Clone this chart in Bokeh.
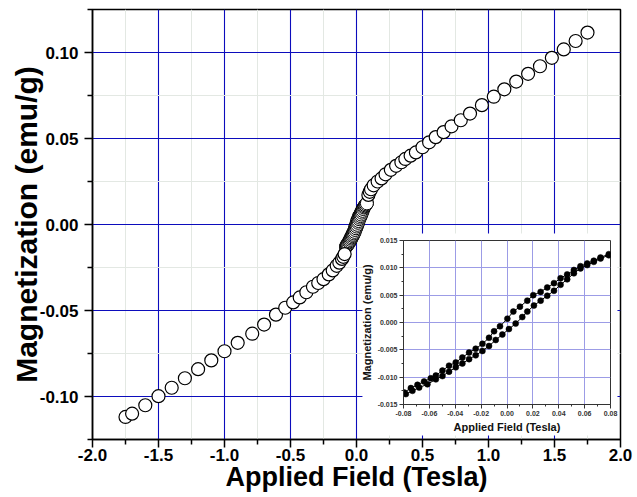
from bokeh.plotting import figure
from bokeh.layouts import column
from bokeh.models import FixedTicker, PrintfTickFormatter, ColumnDataSource, BoxAnnotation
from bokeh.embed import file_html
from bokeh.resources import INLINE

# ---------------- data ----------------
# main curve (outer field region), Tesla / emu/g
main_field = [-1.75, -1.70, -1.60, -1.50, -1.40, -1.30, -1.20, -1.10, -1.00, -0.90,
              -0.79, -0.70, -0.61, -0.54, -0.48, -0.43, -0.38, -0.33, -0.29, -0.25,
              -0.21, -0.18, -0.15, -0.13, -0.11, -0.10, -0.09,
              0.09, 0.10, 0.11, 0.13, 0.16, 0.19, 0.22, 0.26, 0.30, 0.34,
              0.37, 0.41, 0.45, 0.50, 0.55, 0.60, 0.66, 0.72, 0.79, 0.86,
              0.95, 1.04, 1.12, 1.21, 1.30, 1.39, 1.48, 1.57, 1.66, 1.75]
main_mag = [-0.1119, -0.1100, -0.1051, -0.0998, -0.0949, -0.0894, -0.0841, -0.0790, -0.0737, -0.0688,
            -0.0635, -0.0582, -0.0524, -0.0484, -0.0453, -0.0424, -0.0394, -0.0362, -0.0340, -0.0318,
            -0.0290, -0.0267, -0.0240, -0.0222, -0.0200, -0.0188, -0.0172,
            0.0172, 0.0190, 0.0205, 0.0228, 0.0250, 0.0268, 0.0292, 0.0318, 0.0341, 0.0362,
            0.0381, 0.0400, 0.0419, 0.0449, 0.0478, 0.0508, 0.0537, 0.0571, 0.0606, 0.0645,
            0.0694, 0.0743, 0.0786, 0.0831, 0.0876, 0.0920, 0.0969, 0.1018, 0.1067, 0.1116]

# low-field hysteresis loop (shown in inset and in the centre of the main plot)
down_field = [-0.0795, -0.0743, -0.0692, -0.0641, -0.0589, -0.0550, -0.0499, -0.0448, -0.0396, -0.0345,
              -0.0293, -0.0242, -0.0190, -0.0139, -0.0100, -0.0054, 0.0003, 0.0049, 0.0100, 0.0157,
              0.0203, 0.0260, 0.0311, 0.0363, 0.0414, 0.0465, 0.0517, 0.0568, 0.0620, 0.0671,
              0.0723, 0.0787]
down_mag = [-0.0128, -0.0120, -0.0114, -0.0108, -0.0102, -0.0097, -0.0088, -0.0079, -0.0073, -0.0064,
            -0.0055, -0.0048, -0.0039, -0.0028, -0.0016, -0.0007, 0.0007, 0.0020, 0.0029, 0.0040,
            0.0050, 0.0056, 0.0064, 0.0072, 0.0081, 0.0088, 0.0096, 0.0103, 0.0108, 0.0113,
            0.0119, 0.0125]
up_field = [-0.0782, -0.0731, -0.0679, -0.0615, -0.0550, -0.0499, -0.0448, -0.0396, -0.0345, -0.0293,
            -0.0242, -0.0190, -0.0139, -0.0087, -0.0036, 0.0015, 0.0067, 0.0118, 0.0157, 0.0208,
            0.0260, 0.0311, 0.0363, 0.0414, 0.0465, 0.0517, 0.0568, 0.0620, 0.0671, 0.0723,
            0.0787]
up_mag = [-0.0131, -0.0125, -0.0119, -0.0113, -0.0104, -0.0098, -0.0090, -0.0082, -0.0075, -0.0067,
          -0.0060, -0.0052, -0.0043, -0.0032, -0.0022, -0.0012, -0.0002, 0.0010, 0.0020, 0.0031,
          0.0040, 0.0049, 0.0058, 0.0069, 0.0079, 0.0090, 0.0099, 0.0105, 0.0111, 0.0117,
          0.0123]

main_xticks = [-2.0, -1.5, -1.0, -0.5, 0.0, 0.5, 1.0, 1.5, 2.0]
main_xminor = [-1.75, -1.25, -0.75, -0.25, 0.25, 0.75, 1.25, 1.75]
main_yticks = [-0.10, -0.05, 0.00, 0.05, 0.10]
main_yminor = [-0.125, -0.075, -0.025, 0.025, 0.075, 0.125]
ins_xticks = [-0.08, -0.06, -0.04, -0.02, 0.0, 0.02, 0.04, 0.06, 0.08]
ins_xminor = [-0.07, -0.05, -0.03, -0.01, 0.01, 0.03, 0.05, 0.07]
ins_yticks = [-0.015, -0.010, -0.005, 0.0, 0.005, 0.010, 0.015]
ins_yminor = [-0.0125, -0.0075, -0.0025, 0.0025, 0.0075, 0.0125]

FONT = "Liberation Sans"

# ---------------- main figure ----------------
# frame 528 x 430 px: every grid line falls on the same sub-pixel phase
p = figure(frame_width=528, frame_height=430, x_range=(-2.0, 2.0), y_range=(-0.125, 0.125),
           output_backend="svg", toolbar_location=None,
           min_border_left=92, min_border_right=17, min_border_top=9, min_border_bottom=58)
p.background_fill_color = "white"
p.border_fill_color = "white"
p.outline_line_color = "black"
p.outline_line_width = 1.5

xt = FixedTicker(ticks=main_xticks, minor_ticks=main_xminor)
yt = FixedTicker(ticks=main_yticks, minor_ticks=main_yminor)
p.xaxis.ticker = xt
p.yaxis.ticker = yt
p.xgrid.ticker = xt
p.ygrid.ticker = yt
p.xaxis.formatter = PrintfTickFormatter(format="%.1f")
p.yaxis.formatter = PrintfTickFormatter(format="%.2f")

for ax in (p.xaxis[0], p.yaxis[0]):
    ax.axis_line_width = 1.5
    ax.axis_line_color = "black"
    ax.major_tick_line_width = 1.5
    ax.minor_tick_line_width = 1.5
    ax.major_tick_in = 0
    ax.major_tick_out = 8
    ax.minor_tick_in = 0
    ax.minor_tick_out = 5
    ax.major_label_text_font = FONT
    ax.major_label_text_font_style = "bold"
    ax.major_label_text_font_size = "17px"
    ax.major_label_text_color = "black"
    ax.axis_label_text_font = FONT
    ax.axis_label_text_font_style = "bold"
    ax.axis_label_text_color = "black"

p.xaxis.axis_label = "Applied Field (Tesla)"
p.yaxis.axis_label = "Magnetization (emu/g)"
p.xaxis.axis_label_text_font_size = "27px"
p.yaxis.axis_label_text_font_size = "30px"
p.xaxis.major_label_standoff = 1
p.yaxis.major_label_standoff = 6
p.xaxis.axis_label_standoff = -2
p.yaxis.axis_label_standoff = -6

for g in (p.xgrid[0], p.ygrid[0]):
    g.grid_line_color = "#0c0cbc"
    g.grid_line_width = 1.1
    g.minor_grid_line_color = "#e3e8e3"
    g.minor_grid_line_width = 1

# white panel behind the inset (sits under the data, over the grid)
panel = BoxAnnotation(left=0.045, right=1.977, top=-0.0052, bottom=-0.1227,
                      fill_color="white", fill_alpha=1.0, line_alpha=0, level="underlay")
p.add_layout(panel)

main_src = ColumnDataSource(dict(x=main_field, y=main_mag))
down_src = ColumnDataSource(dict(x=down_field, y=down_mag))
up_src = ColumnDataSource(dict(x=up_field, y=up_mag))

for src in (down_src, up_src):
    p.scatter("x", "y", source=src, marker="circle", size=13,
              fill_color="white", line_color="black", line_width=1)
p.scatter("x", "y", source=main_src, marker="circle", size=13,
          fill_color="white", line_color="black", line_width=1.2)

# ---------------- inset figure ----------------
# column aligns plot frames, so the inset gets the main figure's left/right borders (92 / 17)
ins = figure(width=92 + 207 + 17, height=202, x_range=(-0.08, 0.08), y_range=(-0.015, 0.015),
             output_backend="svg", toolbar_location=None,
             min_border_left=41, min_border_right=7, min_border_top=7, min_border_bottom=29)
ins.background_fill_color = "white"
ins.border_fill_alpha = 0.0
ins.outline_line_color = "#333333"
ins.outline_line_width = 1

ins.xaxis.ticker = FixedTicker(ticks=ins_xticks, minor_ticks=ins_xminor)
ins.yaxis.ticker = FixedTicker(ticks=ins_yticks, minor_ticks=ins_yminor)
ins.xgrid.ticker = FixedTicker(ticks=ins_xticks)
ins.ygrid.ticker = FixedTicker(ticks=ins_yticks)
ins.xaxis.formatter = PrintfTickFormatter(format="%.2f")
ins.yaxis.formatter = PrintfTickFormatter(format="%.3f")

for ax in (ins.xaxis[0], ins.yaxis[0]):
    ax.axis_line_width = 1
    ax.axis_line_color = "#333333"
    ax.major_tick_line_width = 1
    ax.minor_tick_line_width = 1
    ax.major_tick_line_color = "#333333"
    ax.minor_tick_line_color = "#333333"
    ax.major_tick_in = 0
    ax.major_tick_out = 4
    ax.minor_tick_in = 0
    ax.minor_tick_out = 2
    ax.major_label_text_font = FONT
    ax.major_label_text_font_style = "bold"
    ax.major_label_text_font_size = "7px"
    ax.major_label_text_color = "#333333"
    ax.major_label_standoff = 2
    ax.axis_label_text_font = FONT
    ax.axis_label_text_font_style = "bold"
    ax.axis_label_text_color = "#111111"
    ax.axis_label_standoff = 2

ins.xaxis.axis_label = "Applied Field (Tesla)"
ins.yaxis.axis_label = "Magnetization (emu/g)"
ins.xaxis.axis_label_text_font_size = "11px"
ins.yaxis.axis_label_text_font_size = "11px"

for g in (ins.xgrid[0], ins.ygrid[0]):
    g.grid_line_color = "#9c9ce6"
    g.grid_line_width = 1

for src in (down_src, up_src):
    ins.line("x", "y", source=src, line_color="black", line_width=1)
    ins.scatter("x", "y", source=src, marker="circle", size=6,
                fill_color="black", line_color="black", line_width=0.5)

ins.margin = (-264, 0, 0, 311)
p.margin = 0

layout = column(p, ins, spacing=0)

open("out.html", "w").write(file_html(layout, INLINE))
